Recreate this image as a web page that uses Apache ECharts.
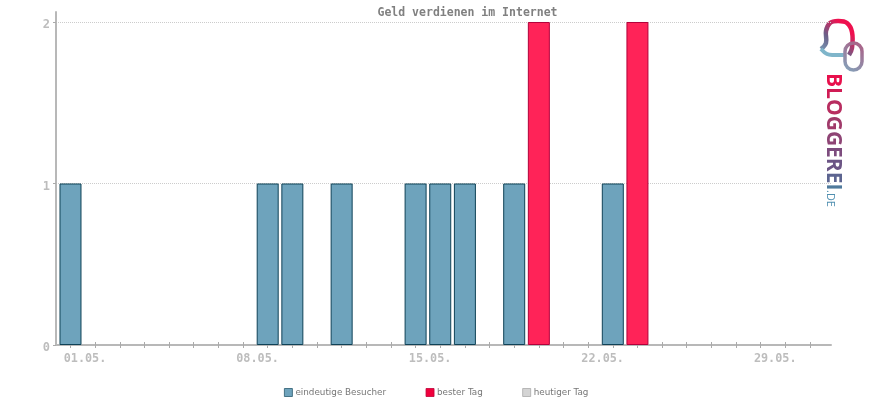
<!DOCTYPE html>
<html>
<head>
<meta charset="utf-8">
<title>Geld verdienen im Internet</title>
<script src="https://cdn.jsdelivr.net/npm/echarts@6/dist/echarts.min.js"></script>
<style>
  html, body { margin: 0; padding: 0; background: #fff; }
  #chart { width: 870px; height: 400px; }
</style>
</head>
<body>
<div id="chart"></div>
<script>
var title = 'Geld verdienen im Internet'
var days = [1,2,3,4,5,6,7,8,9,10,11,12,13,14,15,16,17,18,19,20,21,22,23,24,25,26,27,28,29,30,31]
var visitors = [1,0,0,0,0,0,0,0,1,1,0,1,0,0,1,1,1,0,1,0,0,0,1,0,0,0,0,0,0,0,0]
var best_day = [0,0,0,0,0,0,0,0,0,0,0,0,0,0,0,0,0,0,0,2,0,0,0,2,0,0,0,0,0,0,0]
var today = [0,0,0,0,0,0,0,0,0,0,0,0,0,0,0,0,0,0,0,0,0,0,0,0,0,0,0,0,0,0,0]
var x_label_days = [1,8,15,22,29]
var y_ticks = [0,1,2]

var mono = '"DejaVu Sans Mono", monospace'
var axis_grey = '#b8b8b8'
var label_grey = '#bdbdbd'

function pairs(values){
  var out = Array()
  days.forEach(function(d, i){
    if (values[i] > 0) out.push([d, values[i]])
  })
  return out
}

function day_label(d){
  return (d < 10 ? '0' + d : d) + '.05.'
}

var chart_div = echarts.init(document.getElementById('chart'))

function grad(x, y, x2, y2, stops){
  return new echarts.graphic.LinearGradient(x, y, x2, y2, stops)
}

// logo word fades from red to blue, one colour per letter
var logo_word = 'BLOGGEREI'
var logo_colors = ['#e8104c','#d01c55','#b82d60','#a03a6a','#8e4475','#7d4c7e','#6c5585','#5c6490','#4f7a9c']
var logo_text = ''
var logo_rich = {}
logo_word.split('').forEach(function(c, i){
  logo_text += '{c' + i + '|' + c + '}'
  logo_rich['c' + i] = { fill: logo_colors[i], font: 'bold 21px "Open Sans", sans-serif' }
})

var option = {
  animation: false,
  backgroundColor: '#fff',
  title: {
    text: title,
    left: 462.5,
    top: 2,
    textAlign: 'center',
    textStyle: { fontFamily: mono, fontSize: 11.5, fontWeight: 'bold', color: '#808080' }
  },
  legend: {
    left: 279,
    top: 383,
    itemWidth: 8,
    itemHeight: 8,
    itemGap: 39.5,
    icon: 'rect',
    textStyle: { fontFamily: '"DejaVu Sans", sans-serif', fontSize: 8.8, color: '#777', padding: [1, 0, 0, -2] },
    data: [
      { name: 'eindeutige Besucher', itemStyle: { color: '#6ea3bc', borderColor: '#2a5a70', borderWidth: 0.8 } },
      { name: 'bester Tag', itemStyle: { color: '#f0003c', borderColor: '#c00038', borderWidth: 0.8 } },
      { name: 'heutiger Tag', itemStyle: { color: '#d4d4d4', borderColor: '#aaa', borderWidth: 0.8 } }
    ]
  },
  grid: { left: 56, right: 39, top: 12, bottom: 55 },
  xAxis: [
    {
      type: 'value',
      min: 0.4118,
      max: 31.852,
      splitLine: { show: false },
      axisLine: { show: true, onZero: false, lineStyle: { color: axis_grey, width: 2 } },
      axisTick: { show: true, customValues: days, length: 3, lineStyle: { color: '#aaa', width: 1 } },
      axisLabel: {
        customValues: x_label_days,
        formatter: day_label,
        fontFamily: mono,
        fontSize: 11.8,
        fontWeight: 'bold',
        color: label_grey,
        margin: 8,
        padding: [0, 0, 0, 29]
      }
    },
    {
      type: 'value',
      position: 'bottom',
      min: 0.4118,
      max: 31.852,
      splitLine: { show: false },
      axisLine: { show: false },
      axisLabel: { show: false },
      axisTick: { show: true, inside: true, customValues: days, length: 3, lineStyle: { color: '#aaa', width: 1 } }
    }
  ],
  yAxis: {
    type: 'value',
    min: 0,
    max: 2.0619,
    axisLine: { show: true, onZero: false, lineStyle: { color: axis_grey, width: 2 } },
    axisTick: { show: true, customValues: y_ticks, length: 3, lineStyle: { color: '#aaa', width: 1 } },
    axisLabel: {
      customValues: y_ticks,
      fontFamily: mono,
      fontSize: 12,
      fontWeight: 'bold',
      color: label_grey,
      margin: 6,
      verticalAlign: 'top',
      lineHeight: 6
    },
    splitLine: { show: true, showMinLine: false, showMaxLine: true, lineStyle: { color: '#ccc', type: 'dotted', width: 1 } }
  },
  series: [
    {
      name: 'eindeutige Besucher',
      type: 'bar',
      stack: 'total',
      barWidth: 22,
      data: pairs(visitors),
      itemStyle: { color: '#6ea3bc', borderColor: '#0f4257', borderWidth: 1 }
    },
    {
      name: 'bester Tag',
      type: 'bar',
      stack: 'total',
      barWidth: 22,
      data: pairs(best_day),
      itemStyle: { color: '#ff2358', borderColor: '#b3003a', borderWidth: 1 }
    },
    {
      name: 'heutiger Tag',
      type: 'bar',
      stack: 'total',
      barWidth: 22,
      data: pairs(today),
      itemStyle: { color: '#cccccc', borderColor: '#999', borderWidth: 1 }
    }
  ],
  // logo top right, not part of the data
  graphic: [
    {
      type: 'polyline',
      silent: true,
      shape: { points: [[821,49],[826,43],[826,31],[830,23],[838,21],[847,23],[852,32],[852,48],[849,55]], smooth: 0.4 },
      style: {
        fill: null,
        lineWidth: 4.5,
        stroke: grad(0, 1, 1, 0, [
          { offset: 0, color: '#7fb5ca' },
          { offset: 0.4, color: '#6b5f88' },
          { offset: 0.75, color: '#f0104f' },
          { offset: 1, color: '#e8104c' }
        ])
      }
    },
    {
      type: 'polyline',
      silent: true,
      shape: { points: [[821,49],[827,54],[834,55],[844,55]], smooth: 0.4 },
      style: { fill: null, lineWidth: 4, stroke: '#7fb5ca' }
    },
    {
      type: 'rect',
      silent: true,
      shape: { x: 845, y: 43, width: 17, height: 27, r: 8.5 },
      style: {
        fill: null,
        lineWidth: 3.5,
        stroke: grad(0, 1, 1, 0, [
          { offset: 0, color: '#7fa9c0' },
          { offset: 1, color: '#b0587f' }
        ])
      }
    },
    {
      type: 'text',
      silent: true,
      x: 822,
      y: 73,
      rotation: -Math.PI / 2,
      style: {
        text: logo_text,
        rich: logo_rich,
        textAlign: 'left',
        textVerticalAlign: 'bottom'
      }
    },
    {
      type: 'text',
      silent: true,
      x: 825,
      y: 190,
      rotation: -Math.PI / 2,
      style: {
        text: '.DE',
        font: '11px "Open Sans", sans-serif',
        textAlign: 'left',
        textVerticalAlign: 'bottom',
        fill: '#4f8fb0'
      }
    }
  ]
}

chart_div.setOption(option, true)
</script>
</body>
</html>
